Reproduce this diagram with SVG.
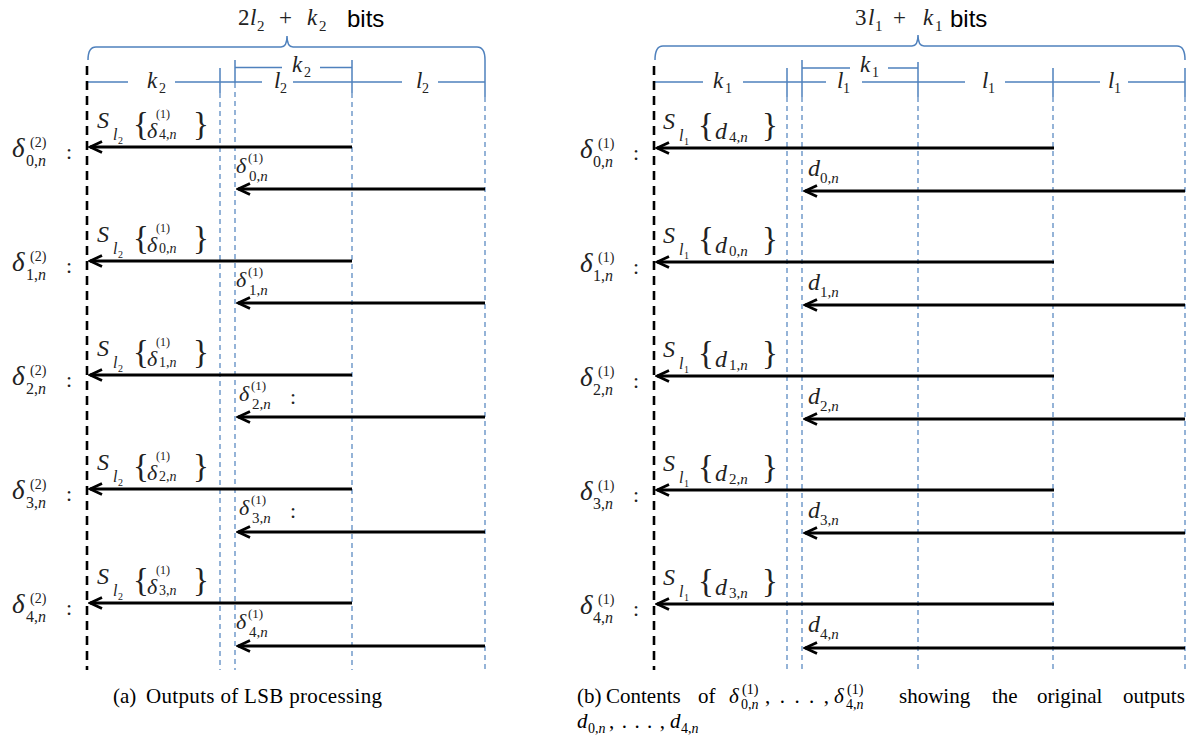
<svg xmlns="http://www.w3.org/2000/svg" width="1191" height="739" viewBox="0 0 1191 739">
<style>
.bl{stroke:#4f81bd;stroke-width:1.5;fill:none}
.bd{stroke:#4f81bd;stroke-width:1.2;stroke-dasharray:5 4;fill:none}
.kd{stroke:#000;stroke-width:2.6;stroke-dasharray:9 6;fill:none}
.ar{stroke:#000;stroke-width:2.8;fill:none;marker-end:url(#ah)}
.mi{font-family:"Liberation Serif",serif;font-style:italic;fill:#222}
.mu{font-family:"Liberation Serif",serif;fill:#222}
.it{font-style:italic}
.cap{font-family:"Liberation Serif",serif;font-size:21px;fill:#000}
.cs{font-family:"Liberation Serif",serif;font-size:14px;fill:#000}
.sans{font-family:"Liberation Sans",Arial,sans-serif;font-size:24px;fill:#000}
</style>
<defs>
<marker id="ah" viewBox="-16 -9 18 18" markerWidth="18" markerHeight="18" refX="0" refY="0" orient="auto" markerUnits="userSpaceOnUse">
<path d="M-12,-5.5 L0,0 L-12,5.5" fill="none" stroke="#000" stroke-width="2.8"/>
</marker>
</defs>

<!-- Panel (a) scaffold -->
<g id="a-scale">
<path class="bl" d="M88,60 Q88,47 96,47 L281,47 Q287,47 287,36 Q287,47 293,47 L477,47 Q485,47 485,60"/>
<text class="mu" x="238" y="25" font-size="23" fill="#111">2</text>
<text class="mi" x="250" y="25" font-size="23">l</text>
<text class="mu" x="257" y="31" font-size="15">2</text>
<text class="mu" x="279" y="25" font-size="23">+</text>
<text class="mi" x="307" y="25" font-size="23">k</text>
<text class="mu" x="319" y="31" font-size="15">2</text>
<text class="sans" x="347" y="27">bits</text>
<path class="bl" d="M88,82 H128 M175,82 H262 M293,82 H402 M438,82 H485"/>
<path class="bl" d="M235,67.5 H282 M320,67.5 H352"/>
<path class="bl" d="M220,68 V93 M235,60 V83 M352,60 V93 M485,60 V97"/>
<path class="bd" d="M220,93 V670 M235,83 V670 M352,93 V670 M485,97 V670"/>
<path class="kd" d="M87,66 V670"/>
<text class="mi" x="147" y="88" font-size="23">k</text>
<text class="mu" x="159" y="93" font-size="14">2</text>
<text class="mi" x="274" y="88" font-size="23">l</text>
<text class="mu" x="280" y="93" font-size="14">2</text>
<text class="mi" x="416" y="88" font-size="23">l</text>
<text class="mu" x="422" y="93" font-size="14">2</text>
<text class="mi" x="292" y="72" font-size="23">k</text>
<text class="mu" x="304" y="77" font-size="14">2</text>
</g>

<!-- Panel (b) scaffold -->
<g id="b-scale">
<path class="bl" d="M655,60 Q655,46 663,46 L912,46 Q918,46 918,35 Q918,46 924,46 L1177,46 Q1185,46 1185,60"/>
<text class="mu" x="855" y="25" font-size="23">3</text>
<text class="mi" x="868" y="25" font-size="23">l</text>
<text class="mu" x="875" y="31" font-size="15">1</text>
<text class="mu" x="893" y="25" font-size="23">+</text>
<text class="mi" x="923" y="25" font-size="23">k</text>
<text class="mu" x="935" y="31" font-size="15">1</text>
<text class="sans" x="950" y="27">bits</text>
<path class="bl" d="M655,82 H703 M743,82 H826 M862,82 H965 M1005,82 H1100 M1128,82 H1185"/>
<path class="bl" d="M802,68 H850 M888,68 H918"/>
<path class="bl" d="M787,68 V97 M802,60 V97 M918,62 V97 M1053,68 V97 M1185,68 V97"/>
<path class="bd" d="M787,97 V670 M802,97 V670 M918,97 V670 M1053,97 V670 M1185,97 V670"/>
<path class="kd" d="M654,66 V670"/>
<text class="mi" x="713" y="88" font-size="23">k</text>
<text class="mu" x="725" y="93" font-size="14">1</text>
<text class="mi" x="837" y="88" font-size="23">l</text>
<text class="mu" x="843" y="93" font-size="14">1</text>
<text class="mi" x="982" y="88" font-size="23">l</text>
<text class="mu" x="988" y="93" font-size="14">1</text>
<text class="mi" x="1108" y="88" font-size="23">l</text>
<text class="mu" x="1114" y="93" font-size="14">1</text>
<text class="mi" x="860" y="72" font-size="23">k</text>
<text class="mu" x="872" y="77" font-size="14">1</text>
</g>

<!-- Panel (a) rows -->
<g id="a-row0" transform="translate(0,147)">
<text class="mi" x="12" y="10" font-size="27">δ</text><text class="mu" x="30" y="0" font-size="14">(2)</text><text class="mu" x="26" y="19" font-size="16">0,<tspan class="it">n</tspan></text><text class="mu" x="66" y="12" font-size="22">:</text>
<text class="mi" x="97" y="-19" font-size="24">S</text><text class="mi" x="113" y="-7" font-size="16">l</text><text class="mu" x="118" y="-3" font-size="10">2</text><text class="mu" x="133" y="-12" font-size="33">{</text><text class="mi" x="147" y="-9" font-size="22">δ</text><text class="mu" x="156" y="-29" font-size="12">(1)</text><text class="mu" x="159" y="-8" font-size="14">4,<tspan class="it">n</tspan></text><text class="mu" x="193" y="-12" font-size="33">}</text>
<text class="mi" x="236" y="26" font-size="22">δ</text><text class="mu" x="248" y="15" font-size="13">(1)</text><text class="mu" x="249" y="34" font-size="15">0,<tspan class="it">n</tspan></text>
</g>
<g id="a-row1" transform="translate(0,261)">
<text class="mi" x="12" y="10" font-size="27">δ</text><text class="mu" x="30" y="0" font-size="14">(2)</text><text class="mu" x="26" y="19" font-size="16">1,<tspan class="it">n</tspan></text><text class="mu" x="66" y="12" font-size="22">:</text>
<text class="mi" x="97" y="-19" font-size="24">S</text><text class="mi" x="113" y="-7" font-size="16">l</text><text class="mu" x="118" y="-3" font-size="10">2</text><text class="mu" x="133" y="-12" font-size="33">{</text><text class="mi" x="147" y="-9" font-size="22">δ</text><text class="mu" x="156" y="-29" font-size="12">(1)</text><text class="mu" x="159" y="-8" font-size="14">0,<tspan class="it">n</tspan></text><text class="mu" x="193" y="-12" font-size="33">}</text>
<text class="mi" x="236" y="26" font-size="22">δ</text><text class="mu" x="248" y="15" font-size="13">(1)</text><text class="mu" x="249" y="34" font-size="15">1,<tspan class="it">n</tspan></text>
</g>
<g id="a-row2" transform="translate(0,375)">
<text class="mi" x="12" y="10" font-size="27">δ</text><text class="mu" x="30" y="0" font-size="14">(2)</text><text class="mu" x="26" y="19" font-size="16">2,<tspan class="it">n</tspan></text><text class="mu" x="66" y="12" font-size="22">:</text>
<text class="mi" x="97" y="-19" font-size="24">S</text><text class="mi" x="113" y="-7" font-size="16">l</text><text class="mu" x="118" y="-3" font-size="10">2</text><text class="mu" x="133" y="-12" font-size="33">{</text><text class="mi" x="147" y="-9" font-size="22">δ</text><text class="mu" x="156" y="-29" font-size="12">(1)</text><text class="mu" x="159" y="-8" font-size="14">1,<tspan class="it">n</tspan></text><text class="mu" x="193" y="-12" font-size="33">}</text>
<text class="mi" x="239" y="26" font-size="22">δ</text><text class="mu" x="251" y="15" font-size="13">(1)</text><text class="mu" x="252" y="34" font-size="15">2,<tspan class="it">n</tspan></text><text class="mu" x="290" y="29" font-size="22">:</text>
</g>
<g id="a-row3" transform="translate(0,489)">
<text class="mi" x="12" y="10" font-size="27">δ</text><text class="mu" x="30" y="0" font-size="14">(2)</text><text class="mu" x="26" y="19" font-size="16">3,<tspan class="it">n</tspan></text><text class="mu" x="66" y="12" font-size="22">:</text>
<text class="mi" x="97" y="-19" font-size="24">S</text><text class="mi" x="113" y="-7" font-size="16">l</text><text class="mu" x="118" y="-3" font-size="10">2</text><text class="mu" x="133" y="-12" font-size="33">{</text><text class="mi" x="147" y="-9" font-size="22">δ</text><text class="mu" x="156" y="-29" font-size="12">(1)</text><text class="mu" x="159" y="-8" font-size="14">2,<tspan class="it">n</tspan></text><text class="mu" x="193" y="-12" font-size="33">}</text>
<text class="mi" x="239" y="26" font-size="22">δ</text><text class="mu" x="251" y="15" font-size="13">(1)</text><text class="mu" x="252" y="34" font-size="15">3,<tspan class="it">n</tspan></text><text class="mu" x="290" y="29" font-size="22">:</text>
</g>
<g id="a-row4" transform="translate(0,603)">
<text class="mi" x="12" y="10" font-size="27">δ</text><text class="mu" x="30" y="0" font-size="14">(2)</text><text class="mu" x="26" y="19" font-size="16">4,<tspan class="it">n</tspan></text><text class="mu" x="66" y="12" font-size="22">:</text>
<text class="mi" x="97" y="-19" font-size="24">S</text><text class="mi" x="113" y="-7" font-size="16">l</text><text class="mu" x="118" y="-3" font-size="10">2</text><text class="mu" x="133" y="-12" font-size="33">{</text><text class="mi" x="147" y="-9" font-size="22">δ</text><text class="mu" x="156" y="-29" font-size="12">(1)</text><text class="mu" x="159" y="-8" font-size="14">3,<tspan class="it">n</tspan></text><text class="mu" x="193" y="-12" font-size="33">}</text>
<text class="mi" x="236" y="26" font-size="22">δ</text><text class="mu" x="248" y="15" font-size="13">(1)</text><text class="mu" x="249" y="34" font-size="15">4,<tspan class="it">n</tspan></text>
</g>

<!-- Panel (b) rows -->
<g id="b-row0" transform="translate(0,148)">
<text class="mi" x="580" y="10" font-size="27">δ</text><text class="mu" x="598" y="0" font-size="14">(1)</text><text class="mu" x="593" y="19" font-size="16">0,<tspan class="it">n</tspan></text><text class="mu" x="633" y="12" font-size="22">:</text>
<text class="mi" x="663" y="-19" font-size="24">S</text><text class="mi" x="679" y="-7" font-size="16">l</text><text class="mu" x="684" y="-3" font-size="10">1</text><text class="mu" x="698" y="-12" font-size="33">{</text><text class="mi" x="715" y="-9" font-size="24">d</text><text class="mu" x="729" y="-6" font-size="15">4,<tspan class="it">n</tspan></text><text class="mu" x="762" y="-12" font-size="33">}</text>
<text class="mi" x="808" y="28" font-size="24">d</text><text class="mu" x="820" y="35" font-size="15">0,<tspan class="it">n</tspan></text>
</g>
<g id="b-row1" transform="translate(0,262)">
<text class="mi" x="580" y="10" font-size="27">δ</text><text class="mu" x="598" y="0" font-size="14">(1)</text><text class="mu" x="593" y="19" font-size="16">1,<tspan class="it">n</tspan></text><text class="mu" x="633" y="12" font-size="22">:</text>
<text class="mi" x="663" y="-19" font-size="24">S</text><text class="mi" x="679" y="-7" font-size="16">l</text><text class="mu" x="684" y="-3" font-size="10">1</text><text class="mu" x="698" y="-12" font-size="33">{</text><text class="mi" x="715" y="-9" font-size="24">d</text><text class="mu" x="729" y="-6" font-size="15">0,<tspan class="it">n</tspan></text><text class="mu" x="762" y="-12" font-size="33">}</text>
<text class="mi" x="808" y="28" font-size="24">d</text><text class="mu" x="820" y="35" font-size="15">1,<tspan class="it">n</tspan></text>
</g>
<g id="b-row2" transform="translate(0,376)">
<text class="mi" x="580" y="10" font-size="27">δ</text><text class="mu" x="598" y="0" font-size="14">(1)</text><text class="mu" x="593" y="19" font-size="16">2,<tspan class="it">n</tspan></text><text class="mu" x="633" y="12" font-size="22">:</text>
<text class="mi" x="663" y="-19" font-size="24">S</text><text class="mi" x="679" y="-7" font-size="16">l</text><text class="mu" x="684" y="-3" font-size="10">1</text><text class="mu" x="698" y="-12" font-size="33">{</text><text class="mi" x="715" y="-9" font-size="24">d</text><text class="mu" x="729" y="-6" font-size="15">1,<tspan class="it">n</tspan></text><text class="mu" x="762" y="-12" font-size="33">}</text>
<text class="mi" x="808" y="28" font-size="24">d</text><text class="mu" x="820" y="35" font-size="15">2,<tspan class="it">n</tspan></text>
</g>
<g id="b-row3" transform="translate(0,490)">
<text class="mi" x="580" y="10" font-size="27">δ</text><text class="mu" x="598" y="0" font-size="14">(1)</text><text class="mu" x="593" y="19" font-size="16">3,<tspan class="it">n</tspan></text><text class="mu" x="633" y="12" font-size="22">:</text>
<text class="mi" x="663" y="-19" font-size="24">S</text><text class="mi" x="679" y="-7" font-size="16">l</text><text class="mu" x="684" y="-3" font-size="10">1</text><text class="mu" x="698" y="-12" font-size="33">{</text><text class="mi" x="715" y="-9" font-size="24">d</text><text class="mu" x="729" y="-6" font-size="15">2,<tspan class="it">n</tspan></text><text class="mu" x="762" y="-12" font-size="33">}</text>
<text class="mi" x="808" y="28" font-size="24">d</text><text class="mu" x="820" y="35" font-size="15">3,<tspan class="it">n</tspan></text>
</g>
<g id="b-row4" transform="translate(0,604)">
<text class="mi" x="580" y="10" font-size="27">δ</text><text class="mu" x="598" y="0" font-size="14">(1)</text><text class="mu" x="593" y="19" font-size="16">4,<tspan class="it">n</tspan></text><text class="mu" x="633" y="12" font-size="22">:</text>
<text class="mi" x="663" y="-19" font-size="24">S</text><text class="mi" x="679" y="-7" font-size="16">l</text><text class="mu" x="684" y="-3" font-size="10">1</text><text class="mu" x="698" y="-12" font-size="33">{</text><text class="mi" x="715" y="-9" font-size="24">d</text><text class="mu" x="729" y="-6" font-size="15">3,<tspan class="it">n</tspan></text><text class="mu" x="762" y="-12" font-size="33">}</text>
<text class="mi" x="808" y="28" font-size="24">d</text><text class="mu" x="820" y="35" font-size="15">4,<tspan class="it">n</tspan></text>
</g>

<!-- Connectors -->
<g id="connectors">
<line class="ar" x1="352" y1="147" x2="90" y2="147"/>
<line class="ar" x1="485" y1="189" x2="238" y2="189"/>
<line class="ar" x1="352" y1="261" x2="90" y2="261"/>
<line class="ar" x1="485" y1="303" x2="238" y2="303"/>
<line class="ar" x1="352" y1="375" x2="90" y2="375"/>
<line class="ar" x1="485" y1="417" x2="238" y2="417"/>
<line class="ar" x1="352" y1="489" x2="90" y2="489"/>
<line class="ar" x1="485" y1="532" x2="238" y2="532"/>
<line class="ar" x1="352" y1="603" x2="90" y2="603"/>
<line class="ar" x1="485" y1="646" x2="238" y2="646"/>
<line class="ar" x1="1054" y1="148" x2="657" y2="148"/>
<line class="ar" x1="1185" y1="191" x2="805" y2="191"/>
<line class="ar" x1="1054" y1="262" x2="657" y2="262"/>
<line class="ar" x1="1185" y1="305" x2="805" y2="305"/>
<line class="ar" x1="1054" y1="376" x2="657" y2="376"/>
<line class="ar" x1="1185" y1="419" x2="805" y2="419"/>
<line class="ar" x1="1054" y1="490" x2="657" y2="490"/>
<line class="ar" x1="1185" y1="533" x2="805" y2="533"/>
<line class="ar" x1="1054" y1="604" x2="657" y2="604"/>
<line class="ar" x1="1185" y1="648" x2="805" y2="648"/>
</g>

<!-- Captions -->
<g id="caption-a">
<text class="cap" x="113" y="703">(a)</text>
<text class="cap" x="146" y="703" textLength="236">Outputs of LSB processing</text>
</g>
<g id="caption-b">
<text class="cap" x="577" y="703">(b)</text>
<text class="cap" x="606" y="703">Contents</text>
<text class="cap" x="698" y="703">of</text>
<text class="cap" x="729" y="703" font-style="italic">δ</text>
<text class="cs" x="742" y="694">(1)</text>
<text class="cs" x="741" y="709">0,<tspan class="it">n</tspan></text>
<text class="cap" x="765" y="703" textLength="64">, . . . ,</text>
<text class="cap" x="834" y="703" font-style="italic">δ</text>
<text class="cs" x="847" y="694">(1)</text>
<text class="cs" x="846" y="709">4,<tspan class="it">n</tspan></text>
<text class="cap" x="899" y="703">showing</text>
<text class="cap" x="992" y="703">the</text>
<text class="cap" x="1037" y="703">original</text>
<text class="cap" x="1123" y="703">outputs</text>
<text class="cap" x="577" y="728" font-style="italic">d</text>
<text class="cs" x="588" y="733">0,<tspan class="it">n</tspan></text>
<text class="cap" x="609" y="728" textLength="56">, . . . ,</text>
<text class="cap" x="670" y="728" font-style="italic">d</text>
<text class="cs" x="681" y="733">4,<tspan class="it">n</tspan></text>
</g>
</svg>
